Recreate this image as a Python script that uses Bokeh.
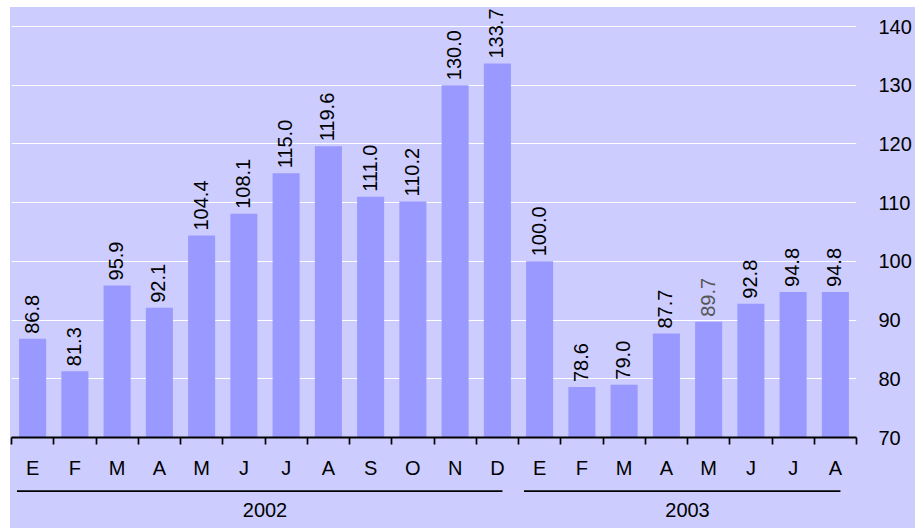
from bokeh.plotting import figure
from bokeh.models import ColumnDataSource, Range1d, FixedTicker, LinearAxis
from bokeh.layouts import column
from bokeh.core.properties import value
from bokeh.embed import file_html
from bokeh.resources import INLINE
import math

# ---- data ----
months = ["E", "F", "M", "A", "M", "J", "J", "A", "S", "O", "N", "D",
          "E", "F", "M", "A", "M", "J", "J", "A"]
values = [86.8, 81.3, 95.9, 92.1, 104.4, 108.1, 115.0, 119.6, 111.0, 110.2, 130.0, 133.7,
          100.0, 78.6, 79.0, 87.7, 89.7, 92.8, 94.8, 94.8]
years = ["2002", "2003"]
year_counts = [12, 8]
y_ticks = [70, 80, 90, 100, 110, 120, 130, 140]

FONT = "Liberation Sans"
FS = "20px"
BG = "#CCCCFF"
BAR = "#9999FF"

n = len(values)
xs = [i + 0.5 for i in range(n)]
label_colors = ["#000000"] * n
label_colors[16] = "#555555"
src = ColumnDataSource(dict(
    x=xs, top=values,
    label=["%.1f" % v for v in values],
    color=label_colors,
))

x_range = Range1d(0, n)

p = figure(frame_width=845, frame_height=430,
           min_border_left=1, min_border_right=59, min_border_top=0, min_border_bottom=40,
           x_range=x_range, y_range=Range1d(70, 143.24),
           output_backend="svg", toolbar_location=None,
           x_axis_location=None, y_axis_location=None,
           background_fill_color=None, border_fill_color=None, outline_line_color=None)

p.vbar(x="x", top="top", bottom=70, width=0.64, source=src, fill_color=BAR, line_color=None)
p.text(x="x", y="top", text="label", source=src, angle=math.pi / 2,
       text_align="left", text_baseline="middle", y_offset=-5, x_offset=-1,
       text_font=value(FONT), text_font_size=FS, text_color="color")

# right value axis
ra = LinearAxis(ticker=FixedTicker(ticks=y_ticks))
ra.axis_line_color = None
ra.major_tick_line_color = None
ra.minor_tick_line_color = None
ra.major_label_standoff = 16
ra.major_label_text_font = FONT
ra.major_label_text_font_size = FS
ra.major_label_text_color = "#000000"
p.add_layout(ra, "right")

# grid lines (white)
p.ygrid.ticker = FixedTicker(ticks=y_ticks)
p.ygrid.grid_line_color = "white"
p.ygrid.grid_line_width = 1
p.xgrid.grid_line_color = None

# month axis: labels at centres, tick marks at boundaries
ma = LinearAxis(ticker=FixedTicker(ticks=xs, minor_ticks=list(range(n + 1))))
ma.major_label_overrides = {x: m for x, m in zip(xs, months)}
ma.axis_line_color = "black"
ma.axis_line_width = 2
ma.major_tick_line_color = None
ma.minor_tick_line_color = "black"
ma.minor_tick_line_width = 1.7
ma.minor_tick_in = 0
ma.minor_tick_out = 7
ma.major_tick_in = 0
ma.major_tick_out = 0
ma.major_label_standoff = 12
ma.major_label_text_font = FONT
ma.major_label_text_font_size = FS
ma.major_label_text_color = "#000000"
p.add_layout(ma, "below")

# ---- year strip below (shares the x scale) ----
starts = [sum(year_counts[:i]) for i in range(len(year_counts))]
centers = [s + c / 2 for s, c in zip(starts, year_counts)]
ysrc = ColumnDataSource(dict(
    x0=[s + 0.13 for s in starts],
    x1=[s + c - 0.38 for s, c in zip(starts, year_counts)],
    xc=centers, year=years,
))

p2 = figure(frame_width=845, frame_height=47,
            min_border_left=1, min_border_right=59, min_border_top=0, min_border_bottom=0,
            x_range=x_range, y_range=Range1d(0, 47),
            output_backend="svg", toolbar_location=None,
            x_axis_location=None, y_axis_location=None,
            background_fill_color=None, border_fill_color=None, outline_line_color=None)
p2.grid.grid_line_color = None
p2.segment(x0="x0", x1="x1", y0=37.3, y1=37.3, source=ysrc,
           line_color="black", line_width=1.7)
p2.text(x="xc", y=19, text="year", source=ysrc, text_align="center", text_baseline="middle",
        text_font=value(FONT), text_font_size=FS, text_color="black")

layout = column(p, p2, spacing=0, margin=(7, 0, 0, 10),
                styles={"background-color": BG})

open("out.html", "w").write(file_html(layout, INLINE))
